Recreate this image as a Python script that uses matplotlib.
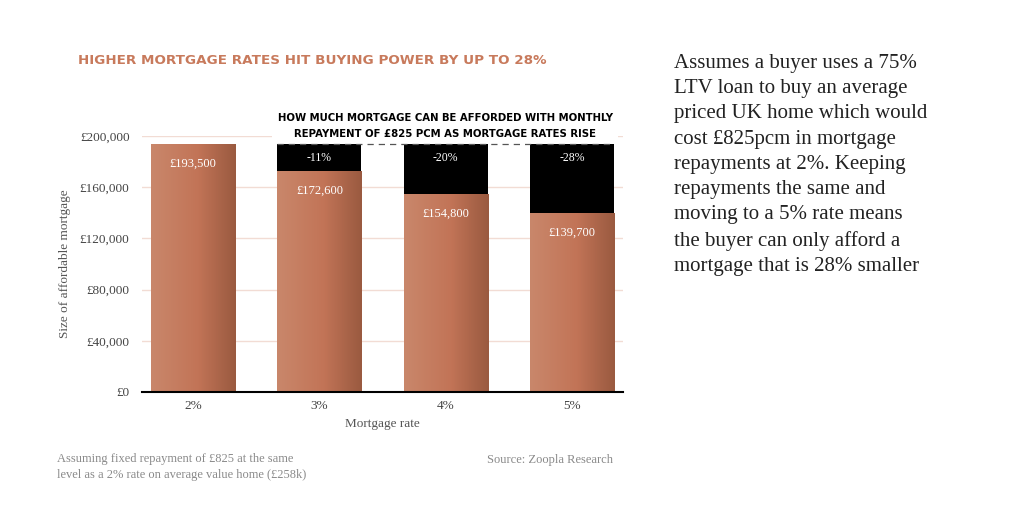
import matplotlib
matplotlib.use("Agg")
import matplotlib.pyplot as plt
import numpy as np
from matplotlib.colors import LinearSegmentedColormap

# data
rates = ["2%", "3%", "4%", "5%"]
affordable = [193500, 172600, 154800, 139700]
drop_labels = ["", "-11%", "-20%", "-28%"]
value_labels = ["£193,500", "£172,600", "£154,800", "£139,700"]
yticks = [0, 40000, 80000, 120000, 160000, 200000]
ytick_labels = ["£0", "£40,000", "£80,000", "£120,000", "£160,000", "£200,000"]

serif = "Liberation Serif"
sans = "DejaVu Sans"
orange = "#c87a5c"

fig = plt.figure(figsize=(10.24, 5.2), dpi=100)
ax = fig.add_axes([142/1024, 1-392/520, 481/1024, 256/520])

x = np.arange(len(rates))
width = 0.667
base = affordable[0]

# bar gradient, light on the left and darker on the right
grad = LinearSegmentedColormap.from_list(
    "bar", [(0, "#c9876b"), (0.55, "#c27457"), (1, "#9a5a40")])
gimg = np.linspace(0, 1, 100).reshape(1, -1)

bars = ax.bar(x, affordable, width, color="none", zorder=3)
for b in bars:
    im = ax.imshow(gimg, cmap=grad, aspect="auto", zorder=3,
                   extent=[b.get_x(), b.get_x()+b.get_width(), 0, b.get_height()])
    im.set_clip_path(b)

gap = [base - v for v in affordable]
ax.bar(x, gap, width, bottom=affordable, color="black", zorder=3)

# dashed reference line at the 2% level
ax.plot([x[1]-width/2, x[3]+width/2], [base, base], color="#555555",
        ls=(0, (5, 4)), lw=0.9, zorder=4)

for i in range(len(rates)):
    ax.annotate(value_labels[i], (x[i], affordable[i]), xytext=(0, -14),
                textcoords="offset points", ha="center", va="center",
                color="white", fontsize=9, family=serif, zorder=5)
    if drop_labels[i]:
        ax.annotate(drop_labels[i], (x[i], base), xytext=(0, -10),
                    textcoords="offset points", ha="center", va="center",
                    color="white", fontsize=8.5, family=serif, zorder=5)

ax.set_xlim(-0.405, 3.405)
ax.set_ylim(0, 200000)
ax.set_yticks(yticks)
ax.set_yticklabels(ytick_labels, family=serif, fontsize=9.5, color="#444444")
ax.set_xticks(x)
ax.set_xticklabels(rates, family=serif, fontsize=9.5, color="#444444")
ax.tick_params(length=0, pad=9)
ax.tick_params(axis="x", pad=6)
ax.grid(axis="y", color="#f2dcd4", lw=1, zorder=0)
for s in ["top", "right", "left"]:
    ax.spines[s].set_visible(False)
ax.spines["bottom"].set_color("black")
ax.spines["bottom"].set_linewidth(1.5)
ax.spines["bottom"].set_zorder(6)

ax.set_xlabel("Mortgage rate", family=serif, fontsize=9.5, color="#555555", labelpad=4)
ax.set_ylabel("Size of affordable mortgage", family=serif, fontsize=9.5,
              color="#555555", labelpad=6)

ax.text((445-142)/481, 0.99, "HOW MUCH MORTGAGE CAN BE AFFORDED WITH MONTHLY\n"
        "REPAYMENT OF £825 PCM AS MORTGAGE RATES RISE", ha="center", va="bottom",
        transform=ax.transAxes, fontsize=7.3, fontweight="bold", family=sans,
        linespacing=1.7, bbox=dict(facecolor="white", edgecolor="none", pad=4),
        zorder=2)

fig.text(78/1024, 1-60/520, "HIGHER MORTGAGE RATES HIT BUYING POWER BY UP TO 28%",
         color=orange, fontsize=9.7, fontweight="bold", family=sans, va="center")

fig.text(57/1024, 1-467/520, "Assuming fixed repayment of £825 at the same\n"
         "level as a 2% rate on average value home (£258k)",
         family=serif, fontsize=9, color="#8a8a8a", va="center", linespacing=1.35)
fig.text(613/1024, 1-460/520, "Source: Zoopla Research", family=serif,
         fontsize=9, color="#8a8a8a", ha="right", va="center")

fig.text(674/1024, 1-165/520,
         "Assumes a buyer uses a 75%\nLTV loan to buy an average\n"
         "priced UK home which would\ncost £825pcm in mortgage\n"
         "repayments at 2%. Keeping\nrepayments the same and\n"
         "moving to a 5% rate means\nthe buyer can only afford a\n"
         "mortgage that is 28% smaller",
         family=serif, fontsize=15, color="#222222", va="center", linespacing=1.45)

fig.savefig("out.png", dpi=100)
